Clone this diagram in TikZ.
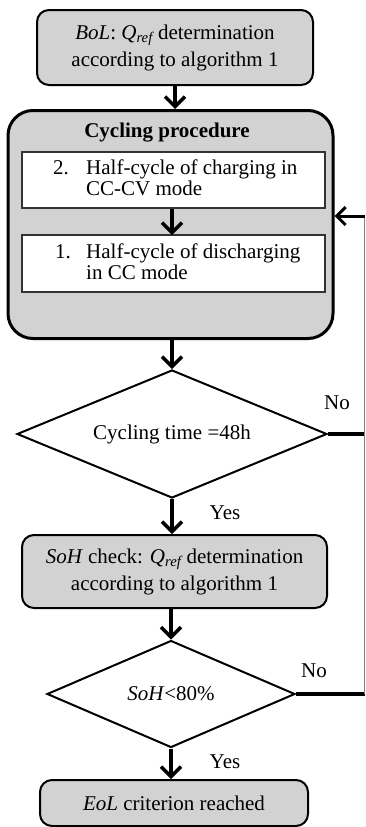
\documentclass[tikz,border=0pt]{standalone}
\usepackage{fontspec}
\setmainfont{Liberation Serif}
\usetikzlibrary{shapes.geometric,arrows.meta}

\begin{document}
\begin{tikzpicture}[x=1pt,y=-1pt,
	font=\fontsize{21}{27}\selectfont,
	graybox/.style={draw,line width=2pt,fill=gray!35,rounded corners=12pt,align=center,inner sep=0pt},
	stepbox/.style={draw=black!80,line width=1.5pt,fill=white,inner sep=0pt},
	steptext/.style={anchor=west,inner sep=0pt,font=\fontsize{21}{21}\selectfont},
	test/.style={draw,line width=2pt,fill=white,diamond,inner sep=0pt},
	flow/.style={line width=3.5pt,-{Straight Barb[length=10pt,width=20pt]}},
	]

	\useasboundingbox (0,0) rectangle (366,827);

	\node (bol)[graybox,minimum width=276,minimum height=75] at (175,47.5) {\textit{BoL}: \textit{Q\textsubscript{ref}} determination\\according to algorithm 1};

	\node (cyc)[graybox,line width=3pt,rounded corners=25pt,minimum width=325,minimum height=228] at (170.5,224.5) {};
	\node (title) at (167,133) {\textbf{Cycling procedure}};

	\node (step2)[stepbox,minimum width=303,minimum height=56] at (173.5,180) {};
	\node (txt2)[steptext] at (53,181) {\begin{tabular}{@{}p{33pt}@{}l@{}}2.&Half-cycle of charging in\\&CC-CV mode\end{tabular}};

	\node (step1)[stepbox,minimum width=303,minimum height=57] at (173.5,263.5) {};
	\node (txt1)[steptext] at (55,265) {\begin{tabular}{@{}p{31pt}@{}l@{}}1.&Half-cycle of discharging\\&in CC mode\end{tabular}};

	\node (time)[test,aspect=2.42,minimum width=310,minimum height=128] at (172,434) {Cycling time =48h};

	\node (soh)[graybox,minimum width=305,minimum height=73] at (174.5,571.5) {\textit{SoH} check: \textit{Q\textsubscript{ref}} determination\\according to algorithm 1};

	\node (limit)[test,aspect=2.32,minimum width=248,minimum height=107] at (171,694) {\textit{SoH}<80\%};

	\node (eol)[graybox,minimum width=268,minimum height=46] at (174,803) {\textit{EoL} criterion reached};

	\node (no1) at (337,403) {No};
	\node (no2) at (314,671) {No};
	\node (yes1) at (225,513) {Yes};
	\node (yes2) at (225,762) {Yes};

	\coordinate (back) at (364.5,216);

	\draw [flow] (bol.south) -- (bol.south |- cyc.north);
	\draw [flow] (172,209) -- (172,235);
	\draw [flow] (cyc.south -| time.north) -- (time.north);
	\draw [flow] (time.south) -- (time.south |- soh.north);
	\draw [flow] (limit.north |- soh.south) -- (limit.north);
	\draw [flow] (limit.south) -- (limit.south |- eol.north);

	\draw [line width=3.5pt] (time.east) -- (time.east -| back);
	\draw [line width=3.5pt] (limit.east) -- (limit.east -| back);
	\draw [line width=1.2pt,color=gray] (back) -- (limit.east -| back);
	\draw [line width=3pt,-{Straight Barb[length=9pt,width=18pt]}] (back) -- (back -| cyc.east);
\end{tikzpicture}
\end{document}
